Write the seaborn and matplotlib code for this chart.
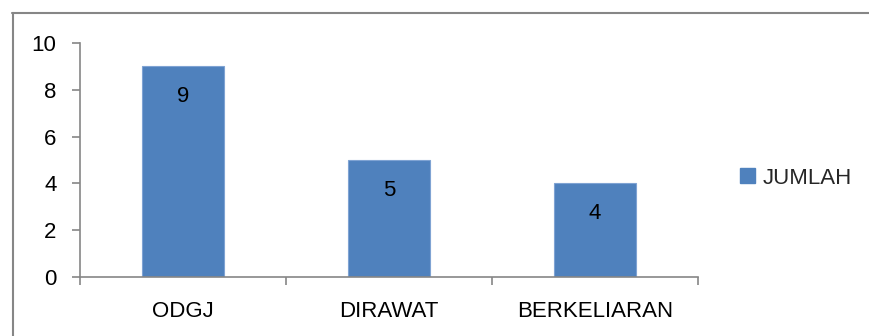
import matplotlib
matplotlib.use("Agg")
import matplotlib.pyplot as plt
import seaborn as sns
from matplotlib.patches import Patch
from matplotlib.lines import Line2D
from matplotlib.ticker import FixedLocator

categories = ["ODGJ", "DIRAWAT", "BERKELIARAN"]
values = [9, 5, 4]
series_name = "JUMLAH"
yticks = [0, 2, 4, 6, 8, 10]

BAR = "#4F81BD"
GRAY = "#868686"
FS = 16

sns.set_theme(style="white")
plt.rcParams["font.family"] = ["Liberation Sans", "DejaVu Sans"]

W, H = 869, 336
fig = plt.figure(figsize=(W / 100, H / 100), dpi=100)
ax = fig.add_axes([80 / W, 1 - 277 / H, (698 - 80) / W, (277 - 43) / H])

sns.barplot(x=categories, y=values, color=BAR, width=0.4, saturation=1,
            edgecolor="#7FA3D3", linewidth=0.8, ax=ax)

ax.set_xlim(-0.5, len(categories) - 0.5)
ax.set_ylim(0, 10)
ax.set_yticks(yticks)
ax.set_yticklabels([str(t) for t in yticks])
ax.xaxis.set_minor_locator(FixedLocator([i - 0.5 for i in range(len(categories) + 1)]))
ax.tick_params(axis="x", which="major", length=0, pad=17, labelsize=FS, colors="black")
ax.tick_params(axis="x", which="minor", length=6, width=1.2, color=GRAY, direction="out", bottom=True)
ax.tick_params(axis="y", length=6, width=1.2, color=GRAY, direction="out", left=True,
               pad=11, labelsize=FS, labelcolor="black")
for s in ["top", "right"]:
    ax.spines[s].set_visible(False)
for s in ["left", "bottom"]:
    ax.spines[s].set_color(GRAY)
    ax.spines[s].set_linewidth(1.2)
ax.set_xlabel("")
ax.set_ylabel("")
ax.grid(False)

for i, v in enumerate(values):
    ax.annotate(str(v), xy=(i, v), xytext=(0, -22), textcoords="offset points",
                ha="center", va="center", fontsize=FS, color="black")

handles = [Patch(facecolor=BAR, edgecolor=BAR, label=series_name)]
fig.legend(handles=handles, loc="center left", bbox_to_anchor=(740 / W, 1 - 178 / H),
           frameon=False, fontsize=FS, handlelength=0.68, handleheight=0.68,
           handletextpad=0.35, borderpad=0, borderaxespad=0)

fig.add_artist(Line2D([12.5 / W, 12.5 / W], [0, 1 - 13 / H], color=GRAY, lw=1.5,
                      transform=fig.transFigure))
fig.add_artist(Line2D([12 / W, 1], [1 - 13 / H, 1 - 13 / H], color=GRAY, lw=1.5,
                      transform=fig.transFigure))

fig.savefig("out.png", dpi=100)
